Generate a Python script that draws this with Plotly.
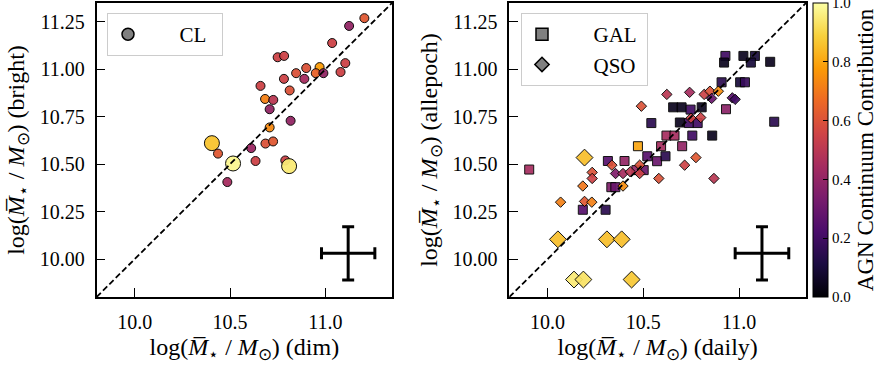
import plotly.graph_objects as go

# ---------------- data ----------------
# Left panel: CL sample  (x = dim epoch, y = bright epoch, colour = AGN continuum contribution)
cl_dim = [11.205, 11.125, 11.036, 10.750, 10.784, 11.105, 11.080, 10.970, 10.950, 10.990,
          10.900, 10.847, 10.890, 10.783, 10.660, 10.813, 10.684, 10.727, 10.708, 10.818,
          10.708, 10.686, 10.726, 10.611, 10.634, 10.790, 10.810, 10.405, 10.437, 10.516,
          10.486]
cl_bright = [11.270, 11.229, 11.139, 11.064, 11.071, 11.033, 10.986, 11.012, 10.980, 10.980,
             11.007, 10.980, 10.950, 10.950, 10.913, 10.889, 10.844, 10.839, 10.790, 10.729,
             10.694, 10.609, 10.620, 10.585, 10.517, 10.520, 10.490, 10.611, 10.556, 10.504,
             10.406]
cl_agn = [0.62, 0.40, 0.55, 0.55, 0.55, 0.55, 0.55, 0.78, 0.65, 0.40,
          0.60, 0.60, 0.45, 0.55, 0.55, 0.60, 0.72, 0.50, 0.40, 0.40,
          0.74, 0.60, 0.62, 0.42, 0.55, 0.55, 0.95, 0.86, 0.62, 0.98,
          0.45]

# Right panel: GAL sample (x = daily, y = all-epoch)
gal_daily = [10.929, 10.922, 11.023, 11.083, 11.062, 11.163, 10.909, 11.006, 11.031, 10.656,
             10.700, 10.747, 10.805, 10.542, 10.691, 10.738, 10.784, 11.184, 10.932, 10.621,
             10.663, 10.756, 10.860, 10.472, 10.593, 10.703, 10.521, 10.572, 10.616, 10.315,
             10.402, 9.904, 10.464, 10.502, 10.333, 10.354, 10.184, 10.303]
gal_allepoch = [11.071, 11.036, 11.071, 11.071, 11.036, 11.040, 10.932, 10.932, 10.932, 10.800,
                10.800, 10.788, 10.800, 10.717, 10.720, 10.717, 10.717, 10.724, 10.790, 10.651,
                10.651, 10.651, 10.651, 10.595, 10.595, 10.595, 10.542, 10.516, 10.542, 10.517,
                10.517, 10.472, 10.469, 10.469, 10.379, 10.379, 10.260, 10.260]
gal_agn = [0.20, 0.05, 0.05, 0.10, 0.10, 0.05, 0.15, 0.10, 0.18, 0.05,
           0.05, 0.20, 0.05, 0.15, 0.05, 0.20, 0.20, 0.15, 0.38, 0.45,
           0.45, 0.20, 0.05, 0.80, 0.45, 0.40, 0.25, 0.30, 0.15, 0.25,
           0.40, 0.45, 0.40, 0.30, 0.35, 0.30, 0.25, 0.15]

# Right panel: QSO sample
qso_daily = [10.623, 10.742, 10.818, 10.848, 10.892, 10.857, 10.965, 10.980, 10.490, 10.800,
             10.749, 10.193, 10.336, 10.355, 10.394, 10.432, 10.481, 10.481, 10.233, 10.233,
             10.184, 10.394, 10.581, 10.716, 10.775, 10.869, 10.068, 10.193, 10.231, 10.054,
             10.310, 10.387, 10.138, 10.187, 10.439]
qso_allepoch = [10.868, 10.879, 10.868, 10.885, 10.885, 10.847, 10.850, 10.842, 10.806, 10.746,
                10.743, 10.535, 10.495, 10.451, 10.451, 10.460, 10.495, 10.451, 10.457, 10.425,
                10.385, 10.385, 10.425, 10.495, 10.535, 10.425, 10.300, 10.304, 10.300, 10.104,
                10.104, 10.104, 9.892, 9.892, 9.892]
qso_agn = [0.50, 0.45, 0.55, 0.60, 0.75, 0.30, 0.25, 0.20, 0.60, 0.55,
           0.55, 0.85, 0.60, 0.35, 0.45, 0.50, 0.60, 0.55, 0.60, 0.55,
           0.70, 0.75, 0.60, 0.55, 0.62, 0.50, 0.72, 0.62, 0.72, 0.85,
           0.85, 0.85, 0.95, 0.93, 0.87]

# representative uncertainty cross
err_x = [11.12]
err_y = [10.03]
err_dx = [0.14]
err_dy = [0.14]

axis_range = [9.8, 11.35]
x_ticks = [10.0, 10.5, 11.0]
y_ticks = [10.0, 10.25, 10.5, 10.75, 11.0, 11.25]
cbar_ticks = [0.0, 0.2, 0.4, 0.6, 0.8, 1.0]
cbar_labels = ["0.0", "0.2", "0.4", "0.6", "0.8", "1.0"]

# ---------------- style ----------------
FONT = "Liberation Serif"
BIG_THRESHOLD = 0.82


def sizes(agn, small, big):
    return [big if a > BIG_THRESHOLD else small for a in agn]


ylab = "log(<i>M\u0305</i><sub>\u22c6</sub> / <i>M</i><sub>\u2299</sub>)"

fig = go.Figure()

mline = dict(color="black", width=1)

fig.add_trace(go.Scatter(
    x=cl_dim, y=cl_bright, mode="markers", showlegend=False,
    marker=dict(symbol="circle", size=sizes(cl_agn, 9, 15), color=cl_agn,
                coloraxis="coloraxis", line=mline, opacity=0.95),
    xaxis="x", yaxis="y"))

fig.add_trace(go.Scatter(
    x=gal_daily, y=gal_allepoch, mode="markers", showlegend=False,
    marker=dict(symbol="square", size=sizes(gal_agn, 9, 13), color=gal_agn,
                coloraxis="coloraxis", line=mline, opacity=0.92),
    xaxis="x2", yaxis="y2"))

fig.add_trace(go.Scatter(
    x=qso_daily, y=qso_allepoch, mode="markers", showlegend=False,
    marker=dict(symbol="diamond", size=sizes(qso_agn, 8, 13), color=qso_agn,
                coloraxis="coloraxis", line=mline, opacity=0.92),
    xaxis="x2", yaxis="y2"))

# 1:1 lines and uncertainty crosses
for xa, ya in (("x", "y"), ("x2", "y2")):
    fig.add_trace(go.Scatter(
        x=axis_range, y=axis_range, mode="lines", showlegend=False,
        line=dict(color="black", width=1.8, dash="6px,3px"),
        xaxis=xa, yaxis=ya, hoverinfo="skip"))
    fig.add_trace(go.Scatter(
        x=err_x, y=err_y, mode="markers", showlegend=False,
        marker=dict(size=1, color="black"),
        error_x=dict(type="data", array=err_dx, color="black", thickness=3, width=6),
        error_y=dict(type="data", array=err_dy, color="black", thickness=3, width=6),
        xaxis=xa, yaxis=ya))

# legend-only traces
leg_line = dict(color="black", width=1.5)
NB = "\u00a0"
fig.add_trace(go.Scatter(x=[None], y=[None], mode="markers", name=NB * 6 + "CL" + NB * 2,
                         marker=dict(symbol="circle", size=12, color="#808080", line=leg_line),
                         legend="legend", xaxis="x", yaxis="y"))
fig.add_trace(go.Scatter(x=[None], y=[None], mode="markers", name=NB * 6 + "GAL" + NB,
                         marker=dict(symbol="square", size=12, color="#808080", line=leg_line),
                         legend="legend2", xaxis="x2", yaxis="y2"))
fig.add_trace(go.Scatter(x=[None], y=[None], mode="markers", name=NB * 6 + "QSO" + NB,
                         marker=dict(symbol="diamond", size=11, color="#808080", line=leg_line),
                         legend="legend2", xaxis="x2", yaxis="y2"))

W, H = 881, 372
TITLE_SIZE = 24


def xax(domain, anchor, title):
    return dict(domain=domain, anchor=anchor, range=axis_range, tickvals=x_ticks,
                tickformat=".1f", ticks="inside", ticklen=9, tickwidth=1.3, tickcolor="black",
                showline=True, linewidth=1.5, linecolor="black", mirror=True,
                showgrid=False, zeroline=False, ticklabelstandoff=6,
                tickfont=dict(family=FONT, size=20, color="black"),
                title=dict(text=title, standoff=6, font=dict(family=FONT, size=TITLE_SIZE, color="black")))


def yax(domain, anchor, title):
    return dict(domain=domain, anchor=anchor, range=axis_range, tickvals=y_ticks,
                tickformat=".2f", ticks="inside", ticklen=9, tickwidth=1.3, tickcolor="black",
                showline=True, linewidth=1.5, linecolor="black", mirror=True,
                showgrid=False, zeroline=False, ticklabelstandoff=6,
                tickfont=dict(family=FONT, size=20, color="black"),
                title=dict(text=title, standoff=8, font=dict(family=FONT, size=TITLE_SIZE, color="black")))


ydom = [(H - 297) / H, (H - 3) / H]
fig.update_layout(
    width=W, height=H, margin=dict(l=0, r=0, t=0, b=0),
    paper_bgcolor="white", plot_bgcolor="white",
    font=dict(family=FONT, color="black"),
    xaxis=xax([96.6 / W, 392 / W], "y", ylab + " (dim)"),
    yaxis=yax(ydom, "x", ylab + " (bright)"),
    xaxis2=xax([509.3 / W, 806 / W], "y2", ylab + " (daily)"),
    yaxis2=yax(ydom, "x2", ylab + " (allepoch)"),
    coloraxis=dict(
        colorscale="Inferno", cmin=-0.0001, cmax=1.0001,
        colorbar=dict(
            x=813 / W, xanchor="left", xpad=0, ypad=0,
            y=(ydom[0] + ydom[1]) / 2, yanchor="middle", len=ydom[1] - ydom[0], lenmode="fraction",
            thickness=15, outlinewidth=1, outlinecolor="black",
            ticks="inside", ticklen=5, tickcolor="black", tickwidth=1,
            tickvals=cbar_ticks, ticktext=cbar_labels, ticklabeloverflow="allow",
            tickfont=dict(family=FONT, size=15, color="black"),
            title=dict(text="AGN Continuum Contribution", side="right",
                       font=dict(family=FONT, size=23, color="black")))),
    legend=dict(x=107 / W, y=1 - 13 / H, xanchor="left", yanchor="top",
                bordercolor="#cccccc", borderwidth=1, bgcolor="rgba(255,255,255,0.8)",
                font=dict(family=FONT, size=21, color="black")),
    legend2=dict(x=521 / W, y=1 - 13 / H, xanchor="left", yanchor="top",
                 bordercolor="#cccccc", borderwidth=1, bgcolor="rgba(255,255,255,0.8)",
                 font=dict(family=FONT, size=21, color="black")),
)

fig.write_html("out.html")
